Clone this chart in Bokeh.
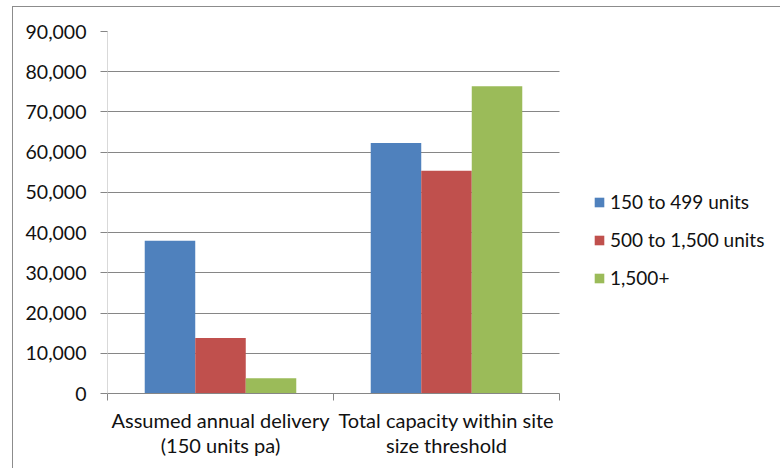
from bokeh.plotting import figure
from bokeh.models import ColumnDataSource, FixedTicker, NumeralTickFormatter, Legend, LegendItem, Range1d, Grid
from bokeh.transform import dodge
from bokeh.embed import file_html
from bokeh.resources import INLINE

categories = ["Assumed annual delivery\n(150 units pa)", "Total capacity within site\nsize threshold"]
series_names = ["150 to 499 units", "500 to 1,500 units", "1,500+"]
s150_499 = [38000, 62300]
s500_1500 = [13800, 55400]
s1500_plus = [3800, 76400]
colors = ["#4F81BD", "#C0504D", "#9BBB59"]
y_ticks = [0, 10000, 20000, 30000, 40000, 50000, 60000, 70000, 80000, 90000]

n = len(categories)
xpos = [i + 0.5 for i in range(n)]
source = ColumnDataSource(data=dict(x=xpos, a=s150_499, b=s500_1500, c=s1500_plus))

FONT = "Lato"

# frame extends to the right so the legend can sit inside it; axis/grid bounded to categories
p = figure(width=768, height=462, output_backend="svg", toolbar_location=None,
           x_range=Range1d(0, n * 669 / 452), y_range=Range1d(0, 90000),
           min_border_left=94, min_border_top=24, min_border_bottom=76, min_border_right=5)
p.margin = (6, 0, 0, 12)
p.styles = {"border-left": "1px solid #8c8c8c", "border-top": "1px solid #8c8c8c"}
p.outline_line_color = None
p.background_fill_color = "white"
p.border_fill_color = "white"

# horizontal gridlines only across the category area
if "cross_bounds" in Grid.properties():
    p.ygrid.ticker = FixedTicker(ticks=y_ticks)
    p.ygrid.grid_line_color = "#868686"
    p.ygrid.cross_bounds = (0, n)
else:
    p.ygrid.visible = False
    p.segment(x0=0, x1=n, y0=y_ticks, y1=y_ticks, line_color="#868686", line_width=1)

bw = 0.2235
renderers = []
for col, off, c in zip(["a", "b", "c"], [-bw, 0, bw], colors):
    r = p.vbar(x=dodge("x", off), top=col, width=bw, source=source, fill_color=c, line_color=None)
    renderers.append(r)

# x axis
p.xaxis.bounds = (0, n)
p.xaxis.ticker = FixedTicker(ticks=xpos, minor_ticks=list(range(n + 1)))
p.xaxis.major_label_overrides = {x: lab for x, lab in zip(xpos, categories)}
p.xaxis.major_tick_out = 0
p.xaxis.major_tick_in = 0
p.xaxis.minor_tick_out = 7
p.xaxis.minor_tick_in = 0
p.xaxis.minor_tick_line_color = "#868686"
p.xaxis.axis_line_color = "#868686"
p.xaxis.major_label_text_font = FONT
p.xaxis.major_label_text_font_size = "20px"
p.xaxis.major_label_text_color = "#111111"
p.xaxis.major_label_text_line_height = 1.05
p.xaxis.major_label_standoff = 7
p.xgrid.visible = False

# y axis
p.yaxis.ticker = FixedTicker(ticks=y_ticks)
p.yaxis.formatter = NumeralTickFormatter(format="0,0")
p.yaxis.axis_line_color = "#d9d9d9"
p.yaxis.major_tick_out = 7
p.yaxis.major_tick_in = 0
p.yaxis.minor_tick_line_color = None
p.yaxis.major_tick_line_color = "#868686"
p.yaxis.major_label_text_font = FONT
p.yaxis.major_label_text_font_size = "19.5px"
p.yaxis.major_label_text_color = "#111111"
p.yaxis.major_label_standoff = 14

legend = Legend(items=[LegendItem(label=nm, renderers=[r]) for nm, r in zip(series_names, renderers)],
                location=(486, 104), glyph_width=12, glyph_height=12, label_height=20,
                spacing=15, padding=0, margin=0, border_line_color=None,
                label_text_font=FONT, label_text_font_size="19px", label_text_color="#111111",
                label_standoff=5, background_fill_alpha=0)
p.add_layout(legend, "center")

open("out.html", "w").write(file_html(p, INLINE))
